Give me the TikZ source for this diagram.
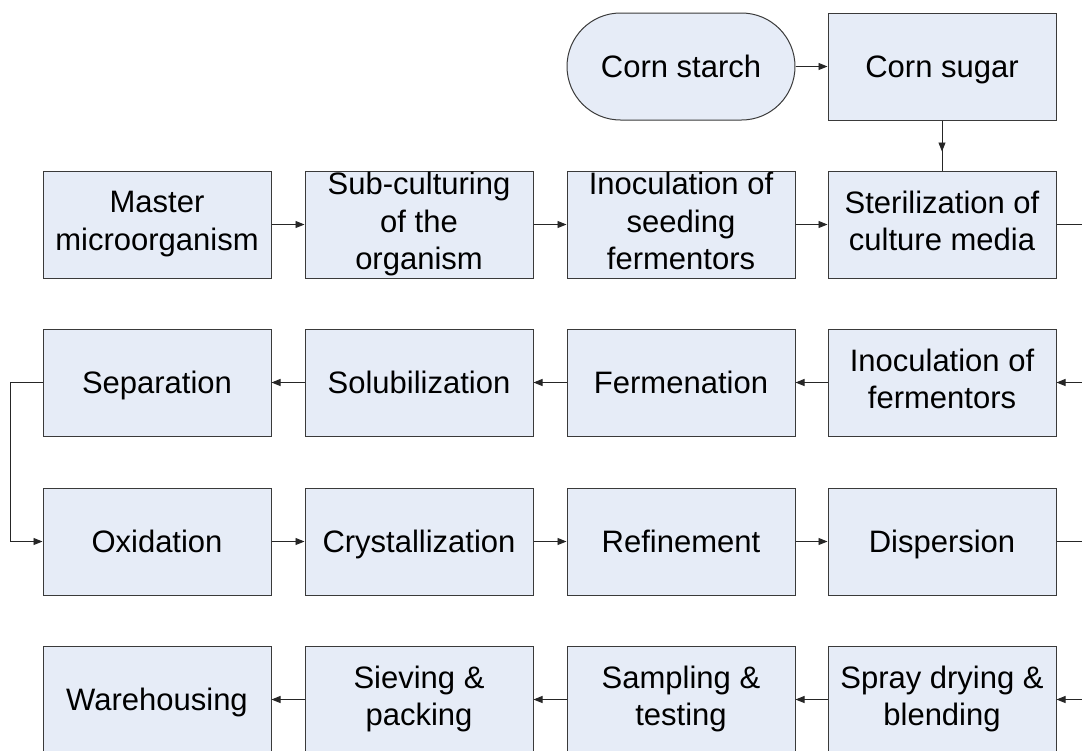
\documentclass[tikz,border=0pt]{standalone}
\usepackage{fontspec}
\setmainfont{Liberation Sans}
\usetikzlibrary{arrows.meta,calc}
\definecolor{boxfill}{HTML}{E6ECF7}
\definecolor{boxline}{HTML}{3A3A3A}
\begin{document}
\begin{tikzpicture}[x=1pt,y=-1pt,
  stepbox/.style={draw=boxline, fill=boxfill, line width=1pt,
    minimum width=228pt, minimum height=107pt, inner xsep=0pt, inner ysep=-3pt,
    align=center, font=\fontsize{31}{37.5}\selectfont,
    execute at begin node={\rule{0pt}{29.2pt}},
    execute at end node={\rule[-7pt]{0pt}{7pt}}},
  startbox/.style={stepbox, rounded corners=53.5pt},
  conn/.style={draw=black!85, line width=0.9pt},
  arr/.style={conn, -{Triangle[length=9pt,width=7pt]}}]
\useasboundingbox (0,0) rectangle (1082,750);
% row 0
\node[startbox] (starch) at (681,66.5) {Corn starch};
\node[stepbox] (sugar) at (942,66.5) {Corn sugar};
% row 1
\node[stepbox] (master) at (157,224.5) {Master\\microorganism};
\node[stepbox] (sub) at (419,224.5) {Sub-culturing\\of the\\organism};
\node[stepbox] (seed) at (681,224.5) {Inoculation of\\seeding\\fermentors};
\node[stepbox] (ster) at (942,224.5) {Sterilization of\\culture media};
% row 2
\node[stepbox] (sep) at (157,382.5) {Separation};
\node[stepbox] (sol) at (419,382.5) {Solubilization};
\node[stepbox] (ferm) at (681,382.5) {Fermenation};
\node[stepbox] (inoc) at (942,382.5) {Inoculation of\\fermentors};
% row 3
\node[stepbox] (oxi) at (157,541.5) {Oxidation};
\node[stepbox] (cry) at (419,541.5) {Crystallization};
\node[stepbox] (ref) at (681,541.5) {Refinement};
\node[stepbox] (disp) at (942,541.5) {Dispersion};
% row 4
\node[stepbox] (ware) at (157,699.5) {Warehousing};
\node[stepbox] (siev) at (419,699.5) {Sieving \&\\packing};
\node[stepbox] (samp) at (681,699.5) {Sampling \&\\testing};
\node[stepbox] (spray) at (942,699.5) {Spray drying \&\\blending};
% free ends at the right edge
\coordinate (r1) at (1085,224.5);
\coordinate (r2) at (1085,382.5);
\coordinate (r3) at (1085,541.5);
\coordinate (r4) at (1085,699.5);
% connectors
\draw[arr] (starch) -- (sugar);
\draw[conn] (sugar) -- (ster);
\draw[arr] (sugar.south) -- ($(sugar.south)!0.62!(ster.north)$);
\draw[arr] (master) -- (sub);
\draw[arr] (sub) -- (seed);
\draw[arr] (seed) -- (ster);
\draw[conn] (ster) -- (r1);
\draw[arr] (r2) -- (inoc);
\draw[arr] (inoc) -- (ferm);
\draw[arr] (ferm) -- (sol);
\draw[arr] (sol) -- (sep);
\draw[arr] (sep.west) -- ++(-32,0) |- (oxi.west);
\draw[arr] (oxi) -- (cry);
\draw[arr] (cry) -- (ref);
\draw[arr] (ref) -- (disp);
\draw[conn] (disp) -- (r3);
\draw[arr] (r4) -- (spray);
\draw[arr] (spray) -- (samp);
\draw[arr] (samp) -- (siev);
\draw[arr] (siev) -- (ware);
\end{tikzpicture}
\end{document}
